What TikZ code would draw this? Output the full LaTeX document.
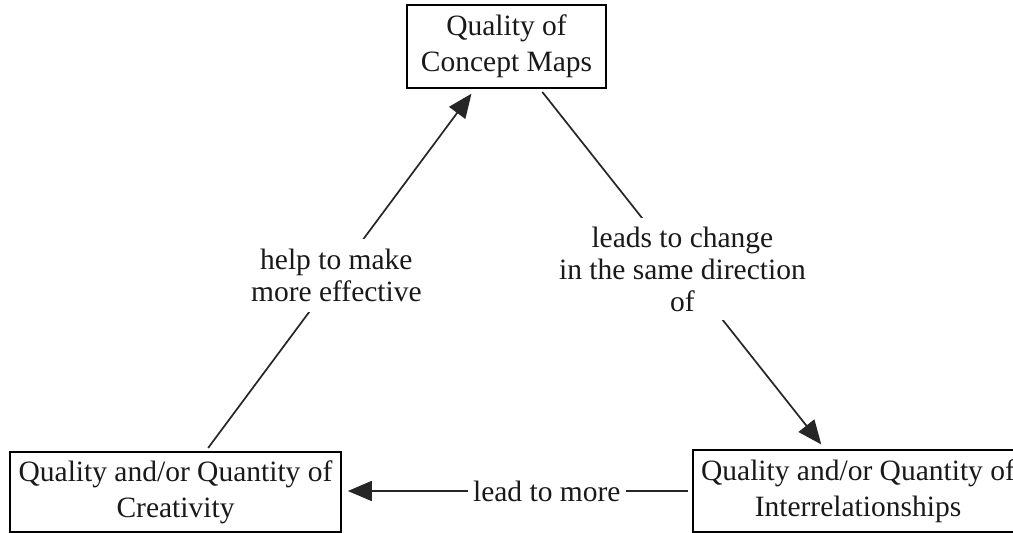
\documentclass[tikz,border=0pt]{standalone}
\usepackage{fontspec}
\setmainfont{Liberation Serif}
\usetikzlibrary{arrows.meta}
\tikzset{
  conceptbox/.style={draw, line width=1.7pt, align=center, inner sep=0pt,
    font=\fontsize{29.5}{36}\selectfont, text=black!90},
  linklabel/.style={fill=white, align=center, inner sep=10pt,
    font=\fontsize{29.5}{32}\selectfont, text=black!90},
  link/.style={line width=1.7pt, draw=black!85,
    -{Triangle[length=24pt,width=20pt]}, shorten >=6pt, shorten <=4pt}
}
\begin{document}
\begin{tikzpicture}[x=1pt,y=-1pt]
\clip (0,0) rectangle (1013,533);
\fill[white] (0,0) rectangle (1013,533);
\node[conceptbox, minimum width=199pt, minimum height=83pt] (maps) at (506.5,46.5) {Quality of\\Concept Maps};
\node[conceptbox, minimum width=331pt, minimum height=80pt] (crea) at (175.5,492) {Quality and/or Quantity of\\Creativity};
\node[conceptbox, minimum width=330pt, minimum height=82pt] (inter) at (858,491) {Quality and/or Quantity of\\Interrelationships};
\draw[link] (crea) -- node[linklabel, pos=0.485] (l1) {help to make\\more effective} (maps);
\draw[link] (maps) -- node[linklabel, pos=0.5, inner sep=9pt] (l2) {leads to change\\in the same direction\\of} (inter);
\draw[link] (inter.west) -- node[linklabel, pos=0.415, inner sep=5pt] (l3) {lead to more} (crea.east |- inter.west);
\end{tikzpicture}
\end{document}
